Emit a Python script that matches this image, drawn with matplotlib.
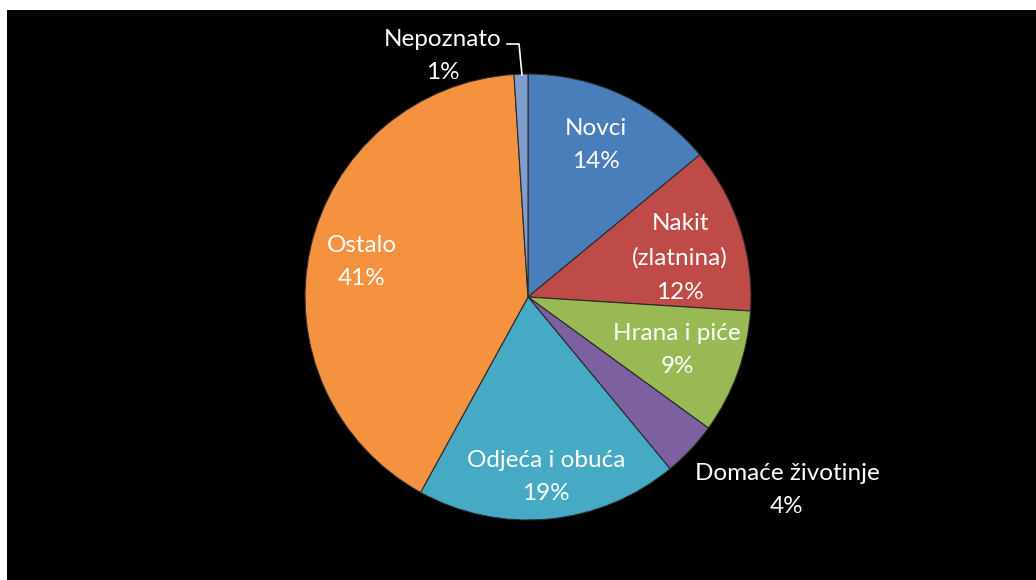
import matplotlib.pyplot as plt

categories = ['Novci', 'Nakit\n(zlatnina)', 'Hrana i piće', 'Domaće životinje',
              'Odjeća i obuća', 'Ostalo', 'Nepoznato']
shares = [14, 12, 9, 4, 19, 41, 1]
colors = ['#4A7EBB', '#BE4B48', '#98B954', '#7D60A0', '#46AAC5', '#F59240', '#7F9ECB']

# label centres in pixel units (x right, y up), pie centre at (528, 283)
label_pos = [(596, 435), (680, 322), (677, 230), (787, 90),
             (546, 103), (362, 318), (443, 524)]

plt.rcParams['font.family'] = ['Lato', 'DejaVu Sans']

fig = plt.figure(figsize=(10.36, 5.8), dpi=100, facecolor='white')
ax = fig.add_axes([7 / 1036, 0, 1029 / 1036, 570 / 580])
ax.set_facecolor('black')

wedges, _ = ax.pie(shares, colors=colors, startangle=90, counterclock=False,
                   center=(528, 283), radius=223, frame=True,
                   wedgeprops=dict(edgecolor='#2a2a2a', linewidth=0.8))

for name, val, (x, y) in zip(categories, shares, label_pos):
    ax.text(x, y, f'{name}\n{val}%', ha='center', va='center', color='white',
            fontsize=17.5, linespacing=1.75)

# leader line for the small slice
ax.plot([507, 519, 522], [536, 536, 505], color='white', lw=1.2)

ax.set_xlim(7, 1036)
ax.set_ylim(0, 570)
ax.set_aspect('equal')
ax.set_xticks([])
ax.set_yticks([])
for s in ax.spines.values():
    s.set_visible(False)

fig.savefig('out.png', dpi=100, facecolor='white')
